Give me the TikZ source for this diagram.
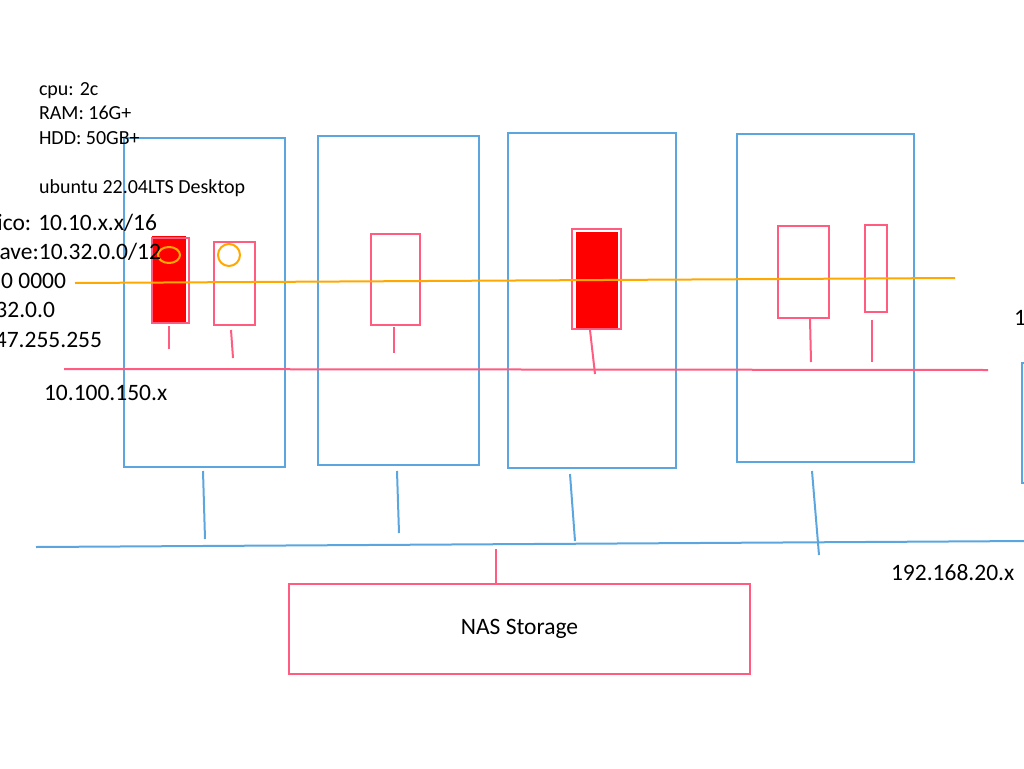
\documentclass[tikz,border=0pt]{standalone}
\usepackage{fontspec}
\setmainfont{Carlito}
\definecolor{netblue}{RGB}{91, 166, 222}
\definecolor{rose}{RGB}{255, 92, 128}
\definecolor{amber}{RGB}{255, 168, 0}
\definecolor{hot}{RGB}{255, 0, 0}

\begin{document}
\begin{tikzpicture}[x=1pt, y=-1pt, line width=2pt,
  host/.style={draw=netblue, inner sep=0, anchor=north west},
  pod/.style={draw=rose, inner sep=0, anchor=north west},
  wire/.style={draw=netblue},
  vlan/.style={draw=rose},
  small/.style={inner sep=0, font=\fontsize{20}{24.5}\selectfont},
  big/.style={inner sep=0, font=\fontsize{23.5}{29}\selectfont}]
  \useasboundingbox (0, 0) rectangle (1024, 768);
  \clip (0, 0) rectangle (1024, 768);

  % machines
  \foreach \n/\x/\y/\w/\h in {1/123/137/161/329, 2/317/135/161/329,
                              3/507/132/168/335, 4/736/133/177/328, 5/1021/362/60/120} {
    \node[host, minimum width=\w, minimum height=\h] (h\n) at (\x, \y) {};
  }

  % red filled pods
  \fill[hot] (152, 236) rectangle (186, 322);
  \fill[hot] (576, 232) rectangle (618, 328);

  % pods
  \foreach \n/\x/\y/\w/\h in {a/151/237/37/85, b/213/241/41/83, c/370/233/49/91,
                              d/571/228/49/100, e/777/225/51/92, f/864/224/22/87} {
    \node[pod, minimum width=\w, minimum height=\h] (p\n) at (\x, \y) {};
  }

  % pod links
  \foreach \p/\xa/\ya/\xb/\yb in {pa/-1.5/2/0/23, pb/-3.5/4/2/28, pc/-1.5/1/0/26,
                                  pd/-6.5/0/5/44, pe/6.5/0/1/43, pf/-4/7/0/42} {
    \draw[vlan] (\p.south) ++(\xa, \ya) -- ++(\xb, \yb);
  }

  \draw[amber] (169, 255) ellipse (11pt and 8pt);
  \draw[amber] (229, 255) circle (11pt);

  % overlay and vlan lines
  \coordinate (ovw) at (75, 283);
  \coordinate (ove) at (955, 278);
  \draw[amber] (ovw) -- (ove);
  \coordinate (vlw) at (64, 369);
  \coordinate (vle) at (988, 370);
  \draw[vlan] (vlw) -- (vle);

  % storage network
  \coordinate (busw) at (36, 547);
  \coordinate (buse) at (1030, 541);
  \draw[wire] (busw) -- (buse);
  \foreach \h/\xa/\ya/\xb/\yb in {h1/-1.5/3/2/68, h2/-1.5/5/2/62,
                                  h3/-22/5/5/67, h4/-13.5/8/7/84} {
    \draw[wire] (\h.south) ++(\xa, \ya) -- ++(\xb, \yb);
  }

  \node[draw=rose, inner sep=0, minimum width=461, minimum height=90, anchor=north west,
        font=\fontsize{23.5}{29}\selectfont] (nas) at (288, 583) {NAS Storage};
  \draw[vlan] (496, 549) -- (nas.north -| 496, 0);

  % texts
  \foreach \t/\y in {cpu: 2c/95, RAM: 16G+/119.5, HDD: 50GB+/144, ubuntu 22.04LTS Desktop/193} {
    \node[small, anchor=base west] at (38, \y) {\t};
  }
  \foreach \t/\x/\y in {{ico: 10.10.x.x/16}/158/230, {ave:10.32.0.0/12}/162/259,
                        10 0000/67/288, 32.0.0/56/317, 47.255.255/103/347} {
    \node[big, anchor=base east] at (\x, \y) {\t};
  }
  \node[big, anchor=base west] (vlanlabel) at (43, 400) {10.100.150.x};
  \node[big, anchor=base west] (buslabel) at (890, 580) {192.168.20.x};
  \node[big, anchor=base west] (cut) at (1013, 325) {1};
\end{tikzpicture}
\end{document}
